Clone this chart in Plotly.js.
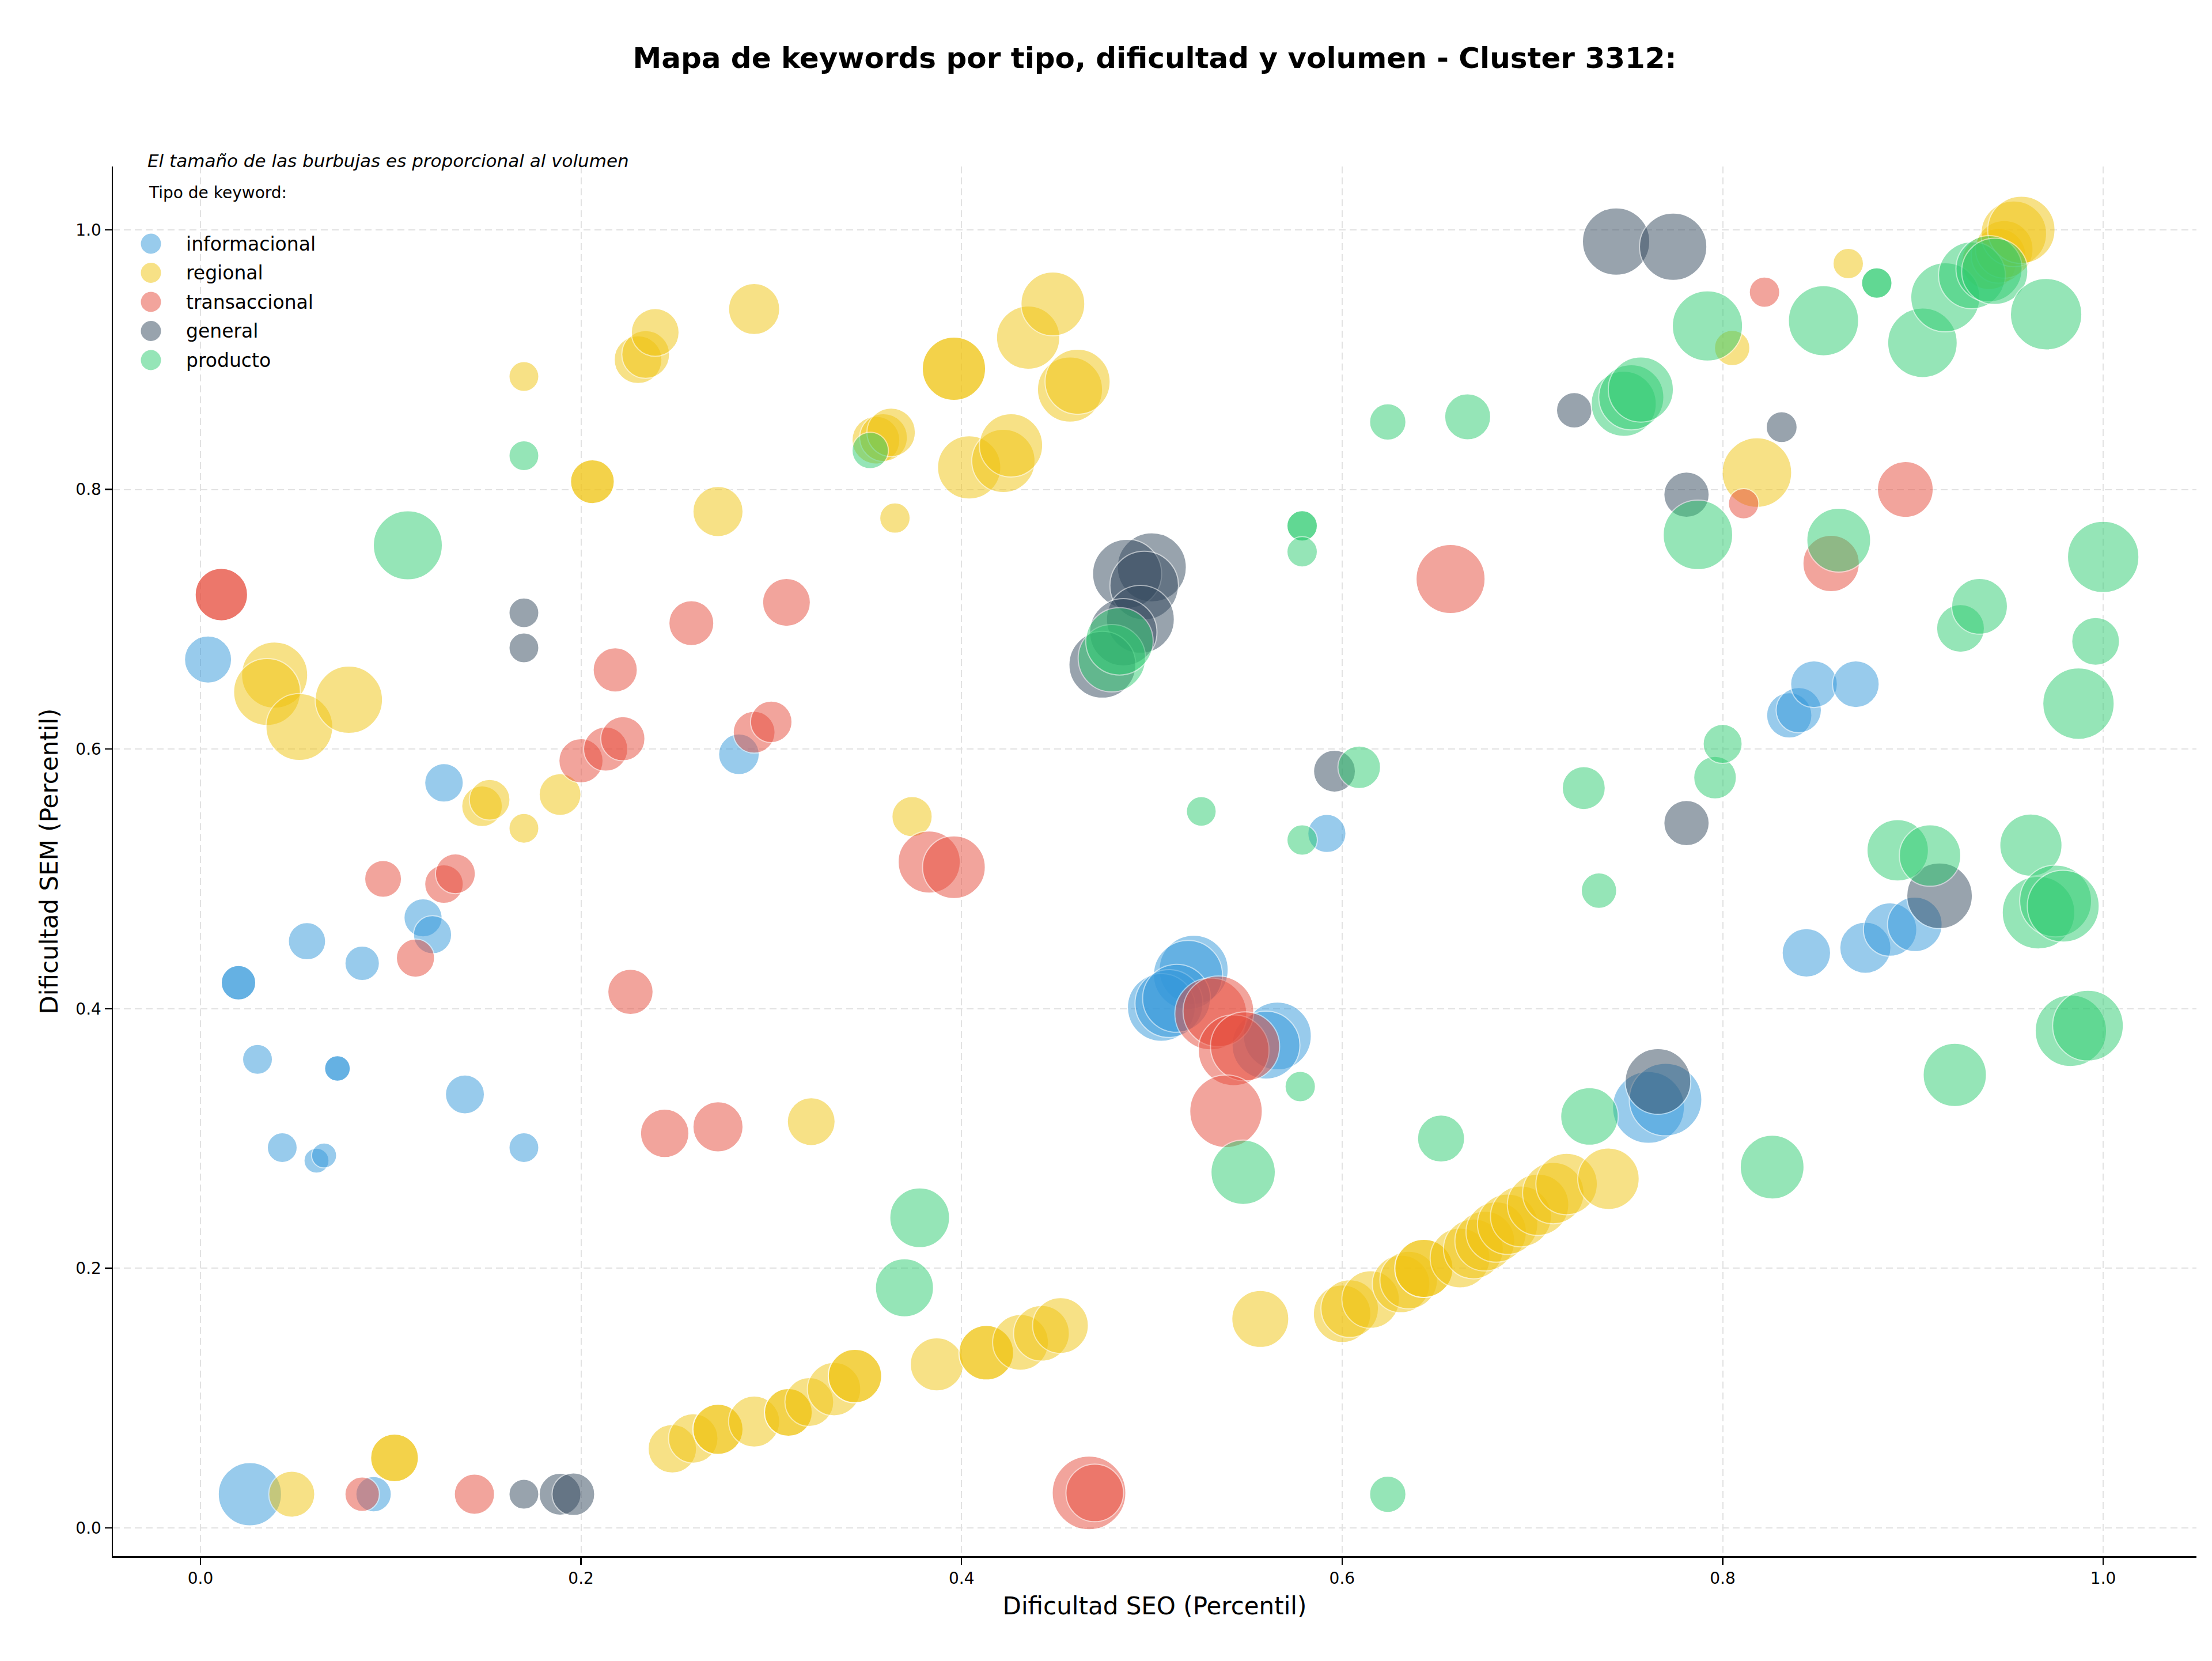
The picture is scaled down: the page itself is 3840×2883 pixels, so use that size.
<!DOCTYPE html>
<html>
<head>
<meta charset="utf-8">
<script src="https://cdn.plot.ly/plotly-3.0.1.min.js"></script>
<style>
  html, body { margin: 0; padding: 0; background: #ffffff; }
  #chart { width: 3840px; height: 2883px; }
</style>
</head>
<body>
<div id="chart"></div>
<script>
// Tipos de keyword y su color
const tipos = ['informacional', 'regional', 'transaccional', 'general', 'producto'];
const colores = ['#3498db', '#f1c40f', '#e74c3c', '#34495e', '#2ecc71'];

// informacional
const infoSEO = [0.004, 0.020, 0.020, 0.030, 0.043, 0.056, 0.061, 0.065, 0.072, 0.072, 0.085, 0.117, 0.122, 0.128, 0.139, 0.170, 0.283, 0.026, 0.091,
  0.522, 0.519, 0.505, 0.509, 0.513, 0.566, 0.560, 0.592, 0.761, 0.770, 0.835, 0.840, 0.848, 0.870, 0.844, 0.875, 0.888, 0.901];
const infoSEM = [0.669, 0.420, 0.420, 0.361, 0.293, 0.452, 0.283, 0.287, 0.354, 0.354, 0.435, 0.470, 0.457, 0.574, 0.334, 0.293, 0.596, 0.026, 0.026,
  0.430, 0.426, 0.401, 0.404, 0.408, 0.379, 0.372, 0.535, 0.324, 0.330, 0.626, 0.630, 0.650, 0.650, 0.443, 0.447, 0.461, 0.465];
const infoVol = [670, 360, 360, 270, 270, 420, 190, 190, 200, 200, 360, 440, 440, 450, 460, 270, 500, 1210, 380,
  1440, 1440, 1390, 1390, 1390, 1390, 1390, 440, 1560, 1590, 620, 620, 660, 660, 710, 790, 860, 900];

// regional
const regSEO = [0.039, 0.035, 0.052, 0.078, 0.148, 0.152, 0.170, 0.189, 0.170, 0.206, 0.206, 0.230, 0.234, 0.239, 0.272, 0.291,
  0.355, 0.359, 0.363, 0.365, 0.374, 0.396, 0.396, 0.404, 0.422, 0.426, 0.435, 0.448, 0.457, 0.461, 0.557, 0.321, 0.048, 0.102, 0.102,
  0.248, 0.259, 0.272, 0.272, 0.291, 0.309, 0.309, 0.320, 0.333, 0.344, 0.344, 0.387, 0.413, 0.413, 0.431, 0.442, 0.452,
  0.600, 0.604, 0.615, 0.631, 0.635, 0.643, 0.643, 0.662, 0.669, 0.675, 0.681, 0.687, 0.694, 0.703, 0.711, 0.718, 0.740,
  0.805, 0.818, 0.866, 0.940, 0.945, 0.948, 0.953, 0.957];
const regSEM = [0.657, 0.644, 0.617, 0.638, 0.556, 0.561, 0.539, 0.565, 0.887, 0.806, 0.806, 0.900, 0.904, 0.921, 0.783, 0.939,
  0.838, 0.840, 0.844, 0.778, 0.548, 0.893, 0.893, 0.817, 0.822, 0.834, 0.917, 0.943, 0.877, 0.883, 0.161, 0.313, 0.026, 0.054, 0.054,
  0.061, 0.069, 0.076, 0.076, 0.082, 0.089, 0.089, 0.097, 0.107, 0.117, 0.117, 0.126, 0.135, 0.135, 0.143, 0.150, 0.156,
  0.165, 0.169, 0.176, 0.188, 0.191, 0.200, 0.200, 0.208, 0.215, 0.221, 0.228, 0.234, 0.240, 0.249, 0.258, 0.265, 0.269,
  0.909, 0.813, 0.974, 0.975, 0.980, 0.985, 0.997, 1.000];
const regVol = [1320, 1350, 1350, 1370, 500, 500, 270, 530, 270, 580, 580, 690, 690, 690, 760, 790,
  690, 690, 710, 280, 490, 1210, 1210, 1210, 1210, 1210, 1210, 1230, 1280, 1280, 980, 690, 640, 690, 690,
  710, 740, 760, 760, 790, 690, 690, 720, 860, 860, 860, 850, 900, 900, 940, 940, 940,
  1000, 1000, 1000, 1000, 1000, 1020, 1020, 1080, 1080, 1080, 1100, 1100, 1120, 1140, 1140, 1140, 1140,
  380, 1460, 280, 900, 900, 1000, 1300, 1370];

// transaccional
const transSEO = [0.011, 0.011, 0.096, 0.113, 0.128, 0.134, 0.200, 0.213, 0.222, 0.218, 0.226, 0.244, 0.272, 0.258, 0.308, 0.291, 0.300,
  0.383, 0.396, 0.531, 0.535, 0.543, 0.549, 0.539, 0.657, 0.085, 0.144, 0.467, 0.470, 0.811, 0.822, 0.857, 0.896];
const transSEM = [0.719, 0.719, 0.500, 0.439, 0.496, 0.504, 0.591, 0.600, 0.608, 0.661, 0.413, 0.304, 0.309, 0.697, 0.713, 0.613, 0.621,
  0.513, 0.509, 0.396, 0.398, 0.368, 0.371, 0.321, 0.731, 0.026, 0.026, 0.027, 0.027, 0.789, 0.952, 0.743, 0.800];
const transVol = [830, 830, 410, 440, 450, 480, 590, 590, 590, 590, 620, 710, 760, 610, 690, 530, 520,
  1170, 1190, 1560, 1510, 1510, 1440, 1590, 1440, 360, 490, 1640, 1000, 280, 280, 960, 940];

// general
const genSEO = [0.170, 0.170, 0.170, 0.189, 0.196, 0.500, 0.487, 0.496, 0.494, 0.485, 0.474, 0.596, 0.722, 0.744, 0.774, 0.781, 0.781, 0.766, 0.831, 0.914];
const genSEM = [0.705, 0.678, 0.026, 0.026, 0.026, 0.740, 0.735, 0.726, 0.700, 0.690, 0.665, 0.583, 0.861, 0.991, 0.987, 0.796, 0.543, 0.344, 0.848, 0.487];
const genVol = [270, 270, 270, 530, 550, 1440, 1440, 1420, 1390, 1370, 1350, 530, 380, 1370, 1370, 620, 620, 1300, 290, 1300];

// producto
const prodSEO = [0.109, 0.170, 0.352, 0.370, 0.378, 0.479, 0.483, 0.526, 0.548, 0.579, 0.579, 0.579, 0.579, 0.578, 0.609, 0.624, 0.624,
  0.652, 0.666, 0.727, 0.730, 0.735, 0.748, 0.752, 0.757, 0.787, 0.792, 0.796, 0.800, 0.826, 0.853, 0.861, 0.881, 0.881,
  0.892, 0.909, 0.905, 0.917, 0.922, 0.925, 0.931, 0.935, 0.940, 0.943, 0.962, 0.966, 0.970, 0.975, 0.979, 0.983, 0.987, 0.992, 0.996, 1.000];
const prodSEM = [0.757, 0.826, 0.830, 0.185, 0.239, 0.670, 0.683, 0.552, 0.274, 0.772, 0.772, 0.752, 0.530, 0.340, 0.586, 0.852, 0.026,
  0.300, 0.856, 0.570, 0.317, 0.491, 0.866, 0.871, 0.877, 0.765, 0.926, 0.578, 0.604, 0.278, 0.930, 0.761, 0.959, 0.959,
  0.522, 0.518, 0.913, 0.948, 0.349, 0.693, 0.965, 0.710, 0.970, 0.968, 0.526, 0.474, 0.935, 0.483, 0.479, 0.383, 0.635, 0.387, 0.683, 0.748];
const prodVol = [1440, 270, 400, 1020, 1080, 1370, 1370, 270, 1250, 280, 280, 280, 280, 280, 550, 400, 400,
  670, 640, 560, 1000, 380, 1280, 1280, 1280, 1460, 1490, 550, 460, 1230, 1490, 1230, 280, 280,
  1140, 1140, 1460, 1440, 1210, 690, 1350, 940, 1320, 1320, 1170, 1590, 1540, 1560, 1560, 1540, 1540, 1510, 690, 1540];

const series = [
  [infoSEO, infoSEM, infoVol],
  [regSEO, regSEM, regVol],
  [transSEO, transSEM, transVol],
  [genSEO, genSEM, genVol],
  [prodSEO, prodSEM, prodVol]
];

const FONT = 'DejaVu Sans, Liberation Sans, sans-serif';

// Bubble area proportional to volume
const traces = series.map(function (s, i) {
  return {
    type: 'scatter',
    mode: 'markers',
    name: tipos[i],
    x: s[0],
    y: s[1],
    marker: {
      size: s[2],
      sizemode: 'area',
      sizeref: 0.2,
      color: colores[i],
      opacity: 0.5,
      line: { color: '#ffffff', width: 2 }
    },
    hoverinfo: 'skip',
    showlegend: false,
    cliponaxis: true
  };
});

// Plot frame in pixels
const W = 3840, H = 2883;
const M = { l: 196, r: 27, t: 289, b: 182 };
const PW = W - M.l - M.r, PH = H - M.t - M.b;
const px = function (X) { return (X - M.l) / PW; };
const py = function (Y) { return (H - M.b - Y) / PH; };

// Legend drawn as shapes + annotations
const shapes = [];
const annotations = [
  {
    text: '<i>El tamaño de las burbujas es proporcional al volumen</i>',
    xref: 'paper', yref: 'paper', x: px(254), y: py(279),
    xanchor: 'left', yanchor: 'middle', showarrow: false,
    font: { family: FONT, size: 31, color: '#000000' }
  },
  {
    text: 'Tipo de keyword:',
    xref: 'paper', yref: 'paper', x: px(256), y: py(335),
    xanchor: 'left', yanchor: 'middle', showarrow: false,
    font: { family: FONT, size: 28, color: '#000000' }
  }
];
tipos.forEach(function (t, i) {
  const Y = 423 + 50.5 * i;
  shapes.push({
    type: 'circle', xref: 'paper', yref: 'paper',
    xsizemode: 'pixel', ysizemode: 'pixel',
    xanchor: px(262), yanchor: py(Y),
    x0: -18.5, x1: 18.5, y0: -18.5, y1: 18.5,
    fillcolor: colores[i], opacity: 0.5,
    line: { color: '#ffffff', width: 2 }
  });
  annotations.push({
    text: t, xref: 'paper', yref: 'paper', x: px(321), y: py(Y),
    xanchor: 'left', yanchor: 'middle', showarrow: false,
    font: { family: FONT, size: 33, color: '#000000' }
  });
});

const axisCommon = {
  showgrid: true,
  gridcolor: '#e2e2e2',
  gridwidth: 2,
  griddash: '12px,7px',
  zeroline: false,
  showline: true,
  linecolor: '#000000',
  linewidth: 2.5,
  mirror: false,
  ticks: 'outside',
  ticklen: 12,
  tickwidth: 2.5,
  tickcolor: '#000000',
  tick0: 0,
  dtick: 0.2,
  tickformat: '.1f',
  tickfont: { family: FONT, size: 28, color: '#000000' }
};

const layout = {
  width: W,
  height: H,
  margin: M,
  paper_bgcolor: '#ffffff',
  plot_bgcolor: '#ffffff',
  showlegend: false,
  font: { family: FONT, color: '#000000' },
  title: {
    text: 'Mapa de keywords por tipo, dificultad y volumen - Cluster 3312:',
    font: { family: FONT, size: 50, color: '#000000', weight: 'bold' },
    xref: 'paper', x: 0.5, xanchor: 'center',
    yref: 'container', y: 1 - 100 / H, yanchor: 'middle'
  },
  xaxis: Object.assign({}, axisCommon, {
    range: [-0.046, 1.049],
    title: { text: 'Dificultad SEO (Percentil)', font: { family: FONT, size: 42, color: '#000000' }, standoff: 18 }
  }),
  yaxis: Object.assign({}, axisCommon, {
    range: [-0.0217, 1.0488],
    title: { text: 'Dificultad SEM (Percentil)', font: { family: FONT, size: 42, color: '#000000' }, standoff: 18 }
  }),
  shapes: shapes,
  annotations: annotations,
  hovermode: false
};

Plotly.newPlot('chart', traces, layout, { displayModeBar: false, staticPlot: true });
</script>
</body>
</html>
